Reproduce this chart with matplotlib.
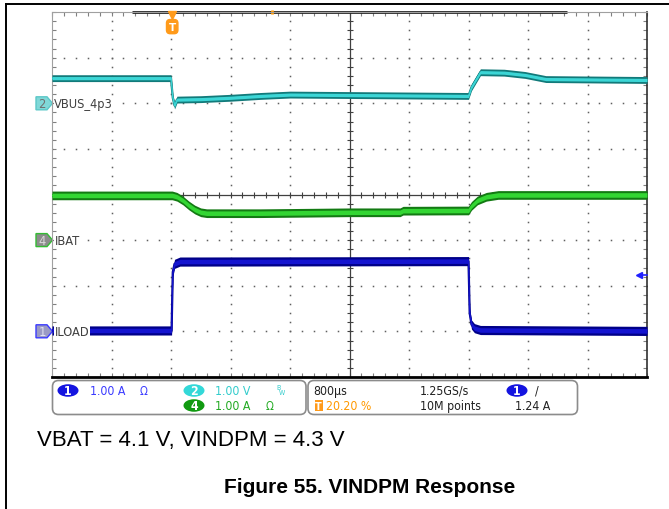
import numpy as np
import matplotlib
matplotlib.use('Agg')
import matplotlib.pyplot as plt
from matplotlib.patches import FancyBboxPatch, Ellipse, Polygon
from matplotlib import font_manager

## trace data in divisions (x: 0..10 div, 800 us/div; y: -4..4 div)
vbus_x = [0, 2.0, 2.03, 2.06, 2.1, 2.5, 3.0, 3.5, 4.0, 5.0, 6.0, 7.0, 7.05, 7.2, 7.6, 7.95, 8.3, 10]
vbus_y = [2.55, 2.55, 2.12, 1.95, 2.08, 2.09, 2.12, 2.16, 2.19, 2.18, 2.17, 2.16, 2.35, 2.68, 2.67, 2.62, 2.53, 2.51]

ibat_x = [0, 2.02, 2.1, 2.2, 2.3, 2.4, 2.5, 2.6, 3.5, 5.0, 5.85, 5.9, 7.0, 7.05, 7.15, 7.3, 7.5, 10]
ibat_y = [-0.02, -0.02, -0.05, -0.13, -0.24, -0.33, -0.39, -0.41, -0.41, -0.39, -0.39, -0.355, -0.35, -0.25, -0.13, -0.05, -0.01, -0.01]

iload_x = [0, 2.01, 2.03, 2.06, 2.15, 7.0, 7.02, 7.05, 7.1, 7.2, 10]
iload_y = [-2.98, -2.98, -1.7, -1.52, -1.47, -1.46, -2.6, -2.85, -2.93, -2.97, -2.99]

trig_pos = 2.02          # 20.20 % of record
trig_level = -3 + 1.24   # ch1 offset + 1.24 A

ch_names = ['VBUS_4p3', 'IBAT', 'ILOAD']
ch_nums = ['2', '4', '1']
ch_offsets = [2, -1, -3]

info_left = [('1.00 A', 'Ω'), ('1.00 V', ''), ('1.00 A', 'Ω')]
info_right = ['800µs', '1.25GS/s', '20.20 %', '10M points', '1.24 A']

note_text = 'VBAT = 4.1 V, VINDPM = 4.3 V'
caption = 'Figure 55. VINDPM Response'

# scope-style narrow font if there is one
fonts = font_manager.fontManager.ttflist
names = {f.name for f in fonts}
if 'Liberation Sans Narrow' in names:
    sfont = dict(family='Liberation Sans Narrow')
    fs = 9.7
elif any(f.name == 'DejaVu Sans' and f.stretch == 'condensed' for f in fonts):
    sfont = dict(family='DejaVu Sans', stretch='condensed')
    fs = 8.8
else:
    sfont = dict(family='Liberation Sans')
    fs = 8.6

W, H = 669, 510
fig = plt.figure(figsize=(W / 100, H / 100), dpi=100)

# background layer in pixel coords (page border, info bar, captions)
bg = fig.add_axes([0, 0, 1, 1])
bg.set_xlim(0, W)
bg.set_ylim(H, 0)
bg.axis('off')
bg.plot([6, 6], [5, H], color='black', lw=1.4)
bg.plot([6, W], [5, 5], color='black', lw=1.4)

# scope screen
ax = fig.add_axes([52 / W, 1 - 378 / H, 595 / W, 365 / H])
ax.set_xlim(0, 10)
ax.set_ylim(-4, 4)
ax.set_xticks(np.arange(0, 10.01, 0.2))
ax.set_yticks(np.arange(-4, 4.01, 0.2))
ax.tick_params(direction='in', length=3, width=0.8, color='#808080',
               top=True, right=True, labelbottom=False, labelleft=False)
ax.spines['left'].set_color('#a0a0a0')
ax.spines['top'].set_color('#a0a0a0')
ax.spines['right'].set_color('#303030')
ax.spines['right'].set_linewidth(1.2)
ax.spines['bottom'].set_color('black')
ax.spines['bottom'].set_linewidth(2)

ys = np.arange(-4, 4.01, 0.2)
xs = np.arange(0, 10.01, 0.2)
for gx in range(1, 10):
    if gx != 5:
        ax.plot(np.full(len(ys), gx), ys, ls='none', marker='s', ms=1.1, color='#606060', mew=0)
for gy in range(-3, 4):
    if gy != 0:
        ax.plot(xs, np.full(len(xs), gy), ls='none', marker='s', ms=1.1, color='#606060', mew=0)

ax.axvline(5, color='#404040', lw=0.9)
ax.axhline(0, color='#404040', lw=0.9)
ax.plot(np.full(len(ys), 5), ys, ls='none', marker='_', ms=5, mew=0.8, color='#404040')
ax.plot(xs, np.zeros(len(xs)), ls='none', marker='|', ms=5, mew=0.8, color='#404040')

# record bar on top edge
ax.plot([1.34, 8.66], [4, 4], color='#202020', lw=2, clip_on=False, solid_capstyle='butt')
ax.plot([3.7], [4.0], marker='|', ms=3, mew=2, color='#ff9900', clip_on=False)


def trace(x, y, dark, core, h_out, h_in):
    # vertical band like a persistence trace: thick flats, thin edges
    x = np.asarray(x)
    y = np.asarray(y)
    ax.fill_between(x, y - h_out, y + h_out, color=dark, lw=0, zorder=5)
    ax.plot(x, y, color=dark, lw=1.6, zorder=5)
    ax.fill_between(x, y - h_in, y + h_in, color=core, lw=0, zorder=6)
    ax.plot(x, y, color=core, lw=0.8, zorder=6)


trace(vbus_x, vbus_y, '#127a7a', '#3cd6d6', 0.075, 0.035)
trace(ibat_x, ibat_y, '#137a13', '#33d633', 0.095, 0.05)
trace(iload_x, iload_y, '#000088', '#1414d0', 0.1, 0.05)

# trigger marker
ax.plot([trig_pos], [3.93], marker='v', ms=6, color='#ff9a1a', clip_on=False, zorder=8)
ax.text(trig_pos, 3.68, 'T', ha='center', va='center', color='white', fontsize=7.5,
        fontweight='bold', zorder=8,
        bbox=dict(boxstyle='round,pad=0.2,rounding_size=0.35', fc='#ff9a1a', ec='#ff9a1a'))

# trigger level arrow
ax.plot([9.86, 10], [trig_level, trig_level], color='#2020ff', lw=1.2, clip_on=False, zorder=8)
ax.plot([9.87], [trig_level], marker='<', ms=5, color='#2020ff', clip_on=False, zorder=8)

# channel labels
for name, off in zip(ch_names, ch_offsets):
    ax.text(0.04, off, name, ha='left', va='center', fontsize=fs + 0.4, color='#404040', zorder=9,
            bbox=dict(boxstyle='square,pad=0.05', fc='white', ec='none'), **sfont)

# channel markers at left edge
marker_style = {'2': ('#80d8d8', '#5cc8c8', '#707070'),
                '4': ('#8c8c8c', '#33bb33', '#d8d8d8'),
                '1': ('#9a9ac4', '#3a3aff', '#e0e0f0')}
for num, off in zip(ch_nums, ch_offsets):
    py = 195.5 - off * 45.6
    fc, ec, tc = marker_style[num]
    bg.add_patch(Polygon([(36, py - 6.5), (47, py - 6.5), (52.5, py), (47, py + 6.5), (36, py + 6.5)],
                         closed=True, fc=fc, ec=ec, lw=1))
    bg.text(42, py + 0.5, num, ha='center', va='center', fontsize=fs + 0.5, color=tc, **sfont)

# info bar
bg.add_patch(FancyBboxPatch((52.5, 381.5), 253.5, 34, boxstyle='round,pad=0,rounding_size=6',
                            fc='white', ec='#8c8c8c', lw=1.2))
bg.add_patch(FancyBboxPatch((308, 381.5), 269.5, 34, boxstyle='round,pad=0,rounding_size=6',
                            fc='white', ec='#8c8c8c', lw=1.2))

r1, r2 = 391.5, 406.5
badges = [(68, r1, '1', '#1414e0'), (194, r1, '2', '#33d8d8'), (194, r2, '4', '#119a11'),
          (517, r1, '1', '#1414e0')]
for bx, by, num, col in badges:
    bg.add_patch(Ellipse((bx, by), 21, 12.5, fc=col, ec='none'))
    bg.text(bx, by + 0.5, num, ha='center', va='center', fontsize=fs,
            color='white', fontweight='bold', **sfont)

bg.text(90, r1, info_left[0][0], va='center', fontsize=fs, color='#3a3aff', **sfont)
bg.text(140, r1, info_left[0][1], va='center', fontsize=fs - 0.5, color='#3a3aff', **sfont)
bg.text(215, r1, info_left[1][0], va='center', fontsize=fs, color='#33cccc', **sfont)
bg.text(276, r1 - 3, 'B', va='center', fontsize=5, color='#33cccc', **sfont)
bg.text(279, r1 + 2, 'W', va='center', fontsize=5, color='#33cccc', **sfont)
bg.text(215, r2, info_left[2][0], va='center', fontsize=fs, color='#22aa22', **sfont)
bg.text(266, r2, info_left[2][1], va='center', fontsize=fs - 0.5, color='#22aa22', **sfont)

bg.text(313, r1, info_right[0], va='center', fontsize=fs, color='#202020', **sfont)
bg.text(420, r1, info_right[1], va='center', fontsize=fs, color='#202020', **sfont)
bg.text(535, r1, '/', va='center', fontsize=fs, color='#202020', **sfont)
bg.add_patch(FancyBboxPatch((314.5, 401), 8, 11, boxstyle='square,pad=0', fc='#ff9a1a', ec='none'))
bg.text(318.5, r2 + 0.5, 'T', ha='center', va='center', fontsize=7, color='white', fontweight='bold')
bg.text(326, r2, info_right[2], va='center', fontsize=fs, color='#ff9900', **sfont)
bg.text(420, r2, info_right[3], va='center', fontsize=fs, color='#202020', **sfont)
bg.text(515, r2, info_right[4], va='center', fontsize=fs, color='#202020', **sfont)

# captions
bg.text(37, 446, note_text, va='baseline', fontsize=16, family='Liberation Sans', color='black')
bg.text(370, 493, caption, ha='center', va='baseline', fontsize=15, family='Liberation Sans',
        fontweight='bold', color='black')

fig.savefig('out.png', dpi=100)
